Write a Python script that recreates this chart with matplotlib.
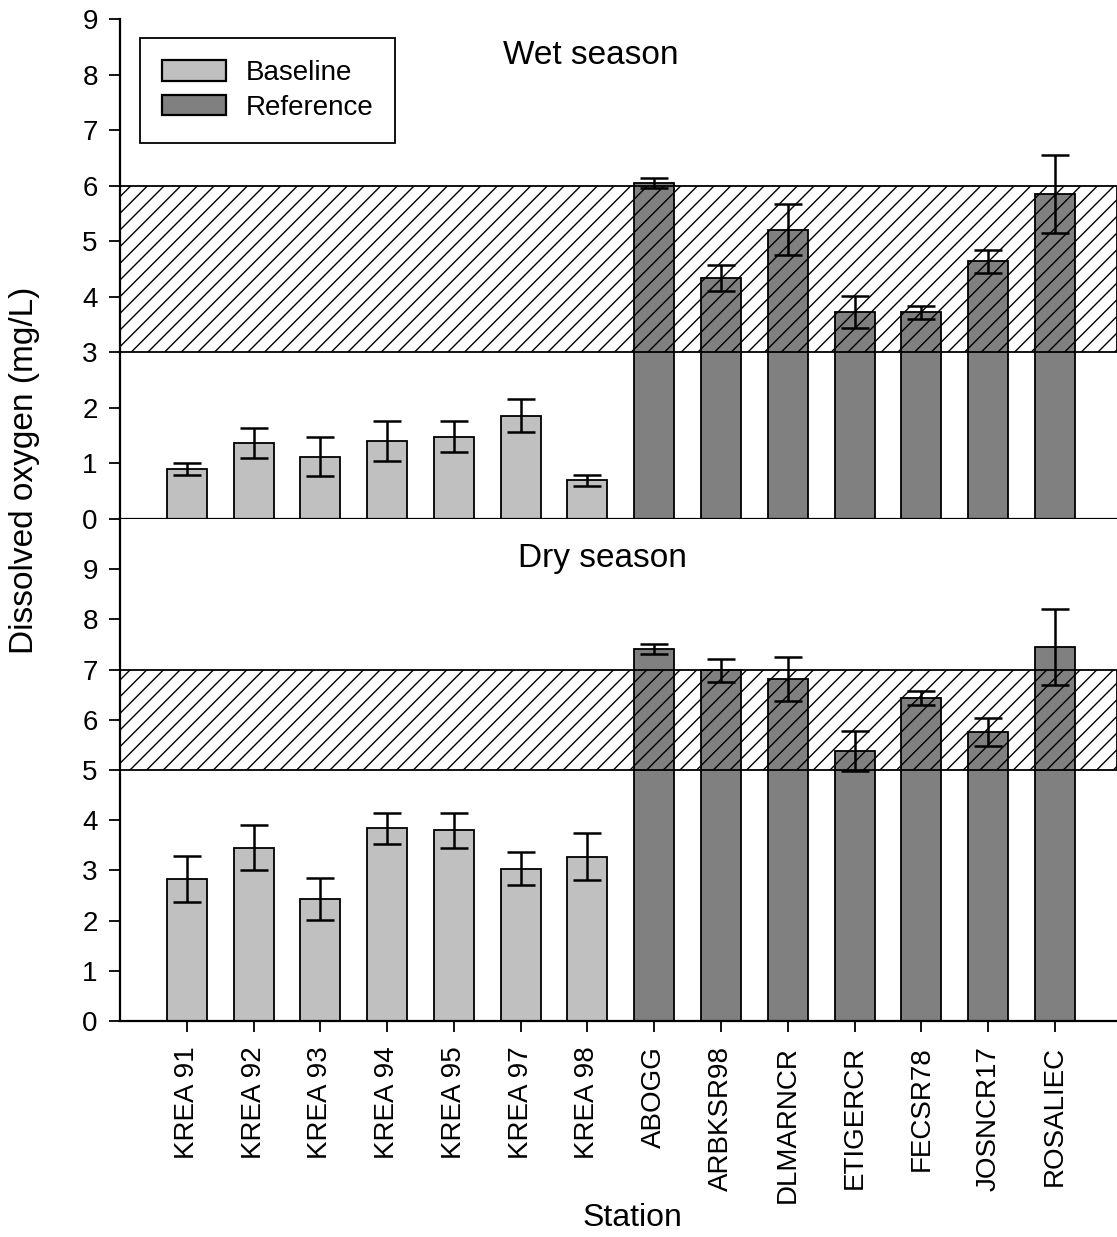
#!/usr/bin/env python3
"""Dissolved oxygen by station, wet and dry season panels."""
import numpy as np

import matplotlib
matplotlib.use("Agg")
import matplotlib.pyplot as plt
from matplotlib.patches import Patch

plt.rcParams["font.family"] = ["Liberation Sans", "DejaVu Sans"]
plt.rcParams["hatch.linewidth"] = 1.0

stations = ["KREA 91", "KREA 92", "KREA 93", "KREA 94", "KREA 95", "KREA 97", "KREA 98",
            "ABOGG", "ARBKSR98", "DLMARNCR", "ETIGERCR", "FECSR78", "JOSNCR17", "ROSALIEC"]
groups = ["Baseline"] * 7 + ["Reference"] * 7

wet_mean = [0.90, 1.37, 1.12, 1.41, 1.48, 1.86, 0.70,
            6.04, 4.34, 5.21, 3.72, 3.72, 4.64, 5.85]
wet_err = [0.11, 0.27, 0.35, 0.36, 0.28, 0.30, 0.10,
           0.09, 0.24, 0.46, 0.29, 0.12, 0.21, 0.71]

dry_mean = [2.83, 3.45, 2.43, 3.84, 3.80, 3.03, 3.27,
            7.41, 6.99, 6.81, 5.38, 6.43, 5.76, 7.45]
dry_err = [0.45, 0.45, 0.41, 0.31, 0.35, 0.33, 0.47,
           0.10, 0.23, 0.44, 0.40, 0.14, 0.28, 0.76]

wet_band = (3, 6)
dry_band = (5, 7)

colors = {"Baseline": "#c0c0c0", "Reference": "#808080"}

FS = 20

fig = plt.figure(figsize=(11.17, 12.37), dpi=100)
ax_wet = fig.add_axes([120 / 1117, 1 - 519 / 1237, 997 / 1117, 500 / 1237])
ax_dry = fig.add_axes([120 / 1117, 1 - 1021 / 1237, 997 / 1117, 502 / 1237])

x = np.arange(1, len(stations) + 1)
bar_colors = [colors[g] for g in groups]


def draw_panel(ax, mean, err, band, ymax, title, title_x, title_y):
    ax.bar(x, mean, width=0.6, color=bar_colors, edgecolor="black", linewidth=1.3, zorder=2)
    ax.axhspan(band[0], band[1], facecolor="none", edgecolor="black", hatch="//",
               linewidth=1.3, zorder=3)
    ax.errorbar(x, mean, yerr=err, fmt="none", ecolor="black", elinewidth=1.8,
                capsize=10, capthick=1.8, zorder=4)
    ax.set_xlim(0, 14.93)
    ax.set_ylim(0, ymax)
    ax.set_yticks(range(0, 10))
    ax.spines["top"].set_visible(False)
    ax.spines["right"].set_visible(False)
    ax.spines["left"].set_linewidth(1.6)
    ax.spines["bottom"].set_linewidth(1.6)
    ax.tick_params(axis="y", direction="out", length=8, width=1.3, labelsize=FS, pad=8)
    ax.text(title_x, title_y, title, transform=ax.transAxes,
            ha="center", va="center", fontsize=24)


draw_panel(ax_wet, wet_mean, wet_err, wet_band, 9, "Wet season",
           (591 - 120) / 997, (519 - 55) / 500)
draw_panel(ax_dry, dry_mean, dry_err, dry_band, 10, "Dry season",
           (602 - 120) / 997, (1021 - 558) / 502)

ax_wet.set_xticks([])
ax_dry.set_xticks(x)
ax_dry.set_xticklabels(stations, rotation=90, fontsize=FS)
ax_dry.tick_params(axis="x", direction="out", length=8, width=1.3, pad=10)

fig.text(632 / 1117, 1 - 1218 / 1237, "Station", ha="center", va="center", fontsize=23)
fig.text(25 / 1117, 1 - 470 / 1237, "Dissolved oxygen (mg/L)", rotation=90,
         ha="center", va="center", fontsize=24)

handles = [Patch(facecolor=colors["Baseline"], edgecolor="black", linewidth=1.6),
           Patch(facecolor=colors["Reference"], edgecolor="black", linewidth=1.6)]
leg = ax_wet.legend(handles, ["Baseline", "Reference"], loc="upper left",
                    bbox_to_anchor=(0.02, 0.962), borderaxespad=0, fontsize=FS,
                    fancybox=False, edgecolor="black", framealpha=1,
                    handlelength=2.3, handleheight=0.75, borderpad=0.8,
                    labelspacing=0.3, handletextpad=0.7)
leg.get_frame().set_linewidth(1.3)

fig.savefig("out.png", dpi=100)
